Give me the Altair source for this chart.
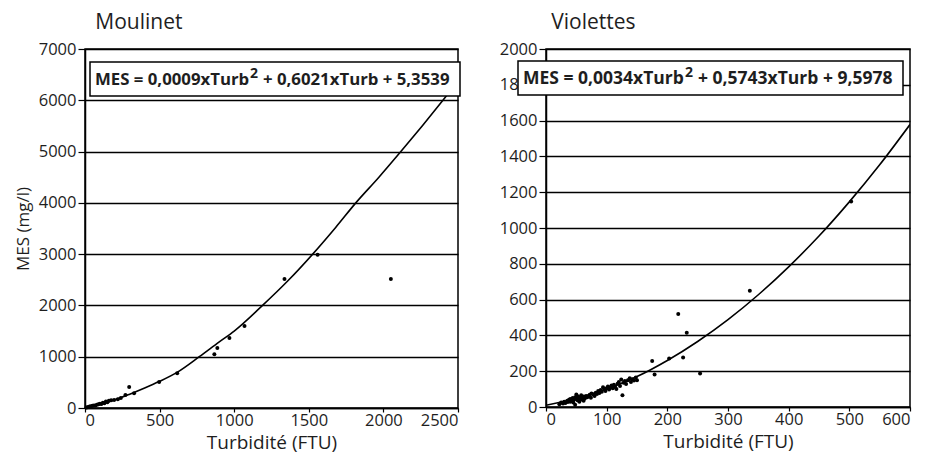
import altair as alt
import pandas as pd

# ---------------- Moulinet ----------------
mou_turb = [10, 20, 30, 40, 50, 60, 70, 80, 90, 100, 110, 120, 130, 140, 150, 160,
            175, 195, 220, 240, 271, 296, 329, 497, 618, 867, 887, 968, 1069,
            1337, 1559, 2050]
mou_mes = [12, 20, 28, 35, 45, 50, 48, 62, 72, 85, 78, 100, 95, 125, 110, 140,
           150, 156, 170, 195, 253, 410, 290, 505, 680, 1050, 1170, 1365, 1600,
           2515, 2990, 2515]
mou_fit_turb = [0, 100, 200, 300, 400, 500, 620, 766, 900, 1000, 1190, 1360, 1526,
                1680, 1815, 1970, 2117, 2260, 2399, 2500]
mou_fit_mes = [5, 75, 160, 270, 390, 520, 700, 1000, 1290, 1500, 2000, 2480, 3000,
               3520, 4000, 4500, 5000, 5500, 6000, 6370]
mou_x_ticks = [0, 500, 1000, 1500, 2000, 2500]
mou_y_ticks = [0, 1000, 2000, 3000, 4000, 5000, 6000, 7000]

# ---------------- Violettes ----------------
vio_turb = [22, 25, 28, 30, 32, 35, 36, 38, 40, 40, 42, 44, 45, 46, 48, 48, 50, 50,
            52, 52, 54, 55, 56, 58, 58, 60, 62, 62, 64, 66, 68, 70, 72, 74, 75, 78,
            80, 82, 84, 86, 88, 90, 92, 94, 96, 98, 100, 102, 104, 106, 108, 110,
            112, 114, 116, 118, 120, 122, 124, 126, 128, 130, 132, 135, 138, 140,
            142, 145, 148, 150, 175, 179, 203, 218, 226, 232, 254, 336, 503]
vio_mes = [15, 25, 20, 30, 22, 35, 28, 40, 30, 45, 35, 50, 25, 40, 55, 12, 45, 70,
           38, 60, 48, 30, 55, 42, 65, 50, 58, 35, 48, 62, 55, 60, 68, 52, 75, 70,
           62, 80, 72, 90, 78, 95, 85, 110, 100, 90, 105, 115, 98, 110, 120, 105,
           125, 112, 100, 130, 140, 118, 153, 65, 135, 145, 128, 150, 160, 140,
           155, 148, 165, 150, 257, 182, 271, 519, 277, 415, 187, 650, 1148]
vio_fit_turb = [0, 50, 100, 150, 200, 250, 300, 350, 400, 450, 500, 550, 600]
vio_fit_mes = [10, 47, 100, 170, 260, 366, 488, 627, 783, 955, 1146, 1353, 1578]
vio_x_ticks = [0, 100, 200, 300, 400, 500, 600]
vio_y_ticks = [0, 200, 400, 600, 800, 1000, 1200, 1400, 1600, 1800, 2000]

FONT = "Open Sans"
INK = "#1e1e1e"


def panel(title, turb, mes, fit_t, fit_m, xdom, ydom, xt, yt, w, h,
          ytitle, box, eq1, eq2, eqsize, title_dx):
    pts = pd.DataFrame({"turb": turb, "mes": mes})
    fit = pd.DataFrame({"turb": fit_t, "mes": fit_m})
    xenc = alt.X("turb:Q", scale=alt.Scale(domain=xdom, nice=False, zero=True),
                 axis=alt.Axis(values=xt, grid=False, title="Turbidité (FTU)",
                               format="d", labelOverlap=False))
    if ytitle:
        yaxis = alt.Axis(values=yt, grid=True, format="d", title=ytitle,
                         labelOverlap=False)
        yenc = alt.Y("mes:Q", scale=alt.Scale(domain=ydom, nice=False), axis=yaxis)
    else:
        yaxis = alt.Axis(values=yt, grid=True, format="d", labelOverlap=False)
        yenc = alt.Y("mes:Q", scale=alt.Scale(domain=ydom, nice=False), axis=yaxis,
                     title=None)

    points = alt.Chart(pts).mark_circle(size=16, color="black", opacity=1).encode(
        x=xenc, y=yenc)
    line = alt.Chart(fit).mark_line(color="black", strokeWidth=1.6, clip=True,
                                    interpolate="monotone").encode(x=xenc, y=yenc)
    bx0, bx1, by0, by1, t1x, supx, t2x = box
    rect = alt.Chart(pd.DataFrame({"k": [0]})).mark_rect(
        fill="white", stroke="black", strokeWidth=1.5).encode(
        x=alt.value(bx0), x2=alt.value(bx1), y=alt.value(by0), y2=alt.value(by1))
    ymid = (by0 + by1) / 2 + 1
    txt1 = alt.Chart(pd.DataFrame({"t": [eq1]})).mark_text(
        align="left", baseline="middle", font=FONT, fontWeight="bold",
        fontSize=eqsize, color=INK).encode(
        x=alt.value(t1x), y=alt.value(ymid), text="t:N")
    sup = alt.Chart(pd.DataFrame({"t": ["2"]})).mark_text(
        align="left", baseline="middle", font=FONT, fontWeight="bold", fontSize=14,
        color=INK).encode(x=alt.value(supx), y=alt.value(ymid - 6), text="t:N")
    txt2 = alt.Chart(pd.DataFrame({"t": [eq2]})).mark_text(
        align="left", baseline="middle", font=FONT, fontWeight="bold",
        fontSize=eqsize, color=INK).encode(
        x=alt.value(t2x), y=alt.value(ymid), text="t:N")

    return alt.layer(line, points, rect, txt1, sup, txt2).properties(
        width=w, height=h,
        title=alt.TitleParams(title, anchor="start", dx=title_dx, fontSize=21,
                              fontWeight="normal", font=FONT, color=INK, offset=8))


left = panel("Moulinet", mou_turb, mou_mes, mou_fit_turb, mou_fit_mes,
             [0, 2500], [0, 7000], mou_x_ticks, mou_y_ticks, 373, 359,
             "MES (mg/l)", (5, 375, 13, 47, 10, 165, 178),
             "MES = 0,0009xTurb", "+ 0,6021xTurb + 5,3539", 16.8, 81)
right = panel("Violettes", vio_turb, vio_mes, vio_fit_turb, vio_fit_mes,
              [0, 600], [0, 2000], vio_x_ticks, vio_y_ticks, 364, 358,
              None, (-28, 357, 12, 46, -23, 139, 152),
              "MES = 0,0034xTurb", "+ 0,5743xTurb + 9,5978", 17.5, 52)

chart = alt.hconcat(left, right, spacing=36).configure_view(
    stroke="black", strokeWidth=1.5
).configure_axis(
    labelFont=FONT, titleFont=FONT, labelColor=INK, titleColor=INK,
    labelFontSize=16.5, titleFontSize=17, titleFontWeight="normal",
    domainColor="black", domainWidth=1.5, tickColor="black", tickWidth=1.2,
    gridColor="black", gridWidth=1.4, gridOpacity=1
).configure_axisY(
    tickSize=7, labelPadding=2, titlePadding=6
).configure_axisX(
    tickSize=4, labelPadding=0, titlePadding=5, titleFontSize=19
).properties(padding={"left": 5, "right": 0, "top": 3, "bottom": 2})

chart.save("out.html", embed_options={"renderer": "svg", "actions": False})
